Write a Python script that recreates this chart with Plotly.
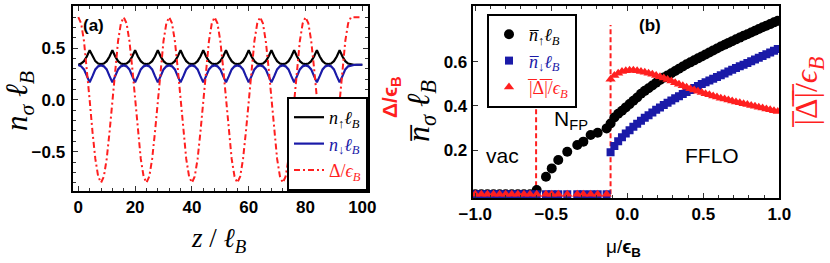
import plotly.graph_objects as go

# ---------------- panel (a) data ----------------
Z = [0, 1, 2, 3, 4, 5, 6, 7, 8, 9, 10, 11, 12, 13, 14, 15, 16, 17, 18, 19, 20,
     21, 22, 23, 24, 25, 26, 27, 28, 29, 30, 31, 32, 33, 34, 35, 36, 37, 38, 39, 40,
     41, 42, 43, 44, 45, 46, 47, 48, 49, 50, 51, 52, 53, 54, 55, 56, 57, 58, 59, 60,
     61, 62, 63, 64, 65, 66, 67, 68, 69, 70, 71, 72, 73, 74, 75, 76, 77, 78, 79, 80,
     81, 82, 83, 84, 85, 86, 87, 88, 89, 90, 91, 92, 93, 94, 95, 96, 97, 98, 99, 100]

N_UP = [0.340, 0.352, 0.375, 0.420, 0.480, 0.420, 0.375, 0.352,
        0.347, 0.352, 0.375, 0.420, 0.480, 0.420, 0.375, 0.352,
        0.347, 0.352, 0.375, 0.420, 0.480, 0.420, 0.375, 0.352,
        0.347, 0.352, 0.375, 0.420, 0.480, 0.420, 0.375, 0.352,
        0.347, 0.352, 0.375, 0.420, 0.480, 0.420, 0.375, 0.352,
        0.347, 0.352, 0.375, 0.420, 0.480, 0.420, 0.375, 0.352,
        0.347, 0.352, 0.375, 0.420, 0.480, 0.420, 0.375, 0.352,
        0.347, 0.352, 0.375, 0.420, 0.480, 0.420, 0.375, 0.352,
        0.347, 0.352, 0.375, 0.420, 0.480, 0.420, 0.375, 0.352,
        0.347, 0.352, 0.375, 0.420, 0.480, 0.420, 0.375, 0.352,
        0.347, 0.352, 0.375, 0.420, 0.480, 0.420, 0.375, 0.352,
        0.347, 0.352, 0.375, 0.420, 0.480, 0.420, 0.375, 0.352,
        0.343, 0.340, 0.340, 0.340, 0.340]

N_DOWN = [0.338, 0.325, 0.295, 0.230, 0.170, 0.230, 0.295, 0.325,
          0.333, 0.325, 0.295, 0.230, 0.170, 0.230, 0.295, 0.325,
          0.333, 0.325, 0.295, 0.230, 0.170, 0.230, 0.295, 0.325,
          0.333, 0.325, 0.295, 0.230, 0.170, 0.230, 0.295, 0.325,
          0.333, 0.325, 0.295, 0.230, 0.170, 0.230, 0.295, 0.325,
          0.333, 0.325, 0.295, 0.230, 0.170, 0.230, 0.295, 0.325,
          0.333, 0.325, 0.295, 0.230, 0.170, 0.230, 0.295, 0.325,
          0.333, 0.325, 0.295, 0.230, 0.170, 0.230, 0.295, 0.325,
          0.333, 0.325, 0.295, 0.230, 0.170, 0.230, 0.295, 0.325,
          0.333, 0.325, 0.295, 0.230, 0.170, 0.230, 0.295, 0.325,
          0.333, 0.325, 0.295, 0.230, 0.170, 0.230, 0.295, 0.325,
          0.333, 0.325, 0.295, 0.230, 0.170, 0.230, 0.295, 0.325,
          0.335, 0.338, 0.340, 0.340, 0.340]

DELTA = [0.80, 0.74, 0.57, 0.31, 0.00, -0.31, -0.57, -0.74, -0.80, -0.74, -0.57, -0.31, 0.00, 0.31, 0.57, 0.74,
         0.80, 0.74, 0.57, 0.31, 0.00, -0.31, -0.57, -0.74, -0.80, -0.74, -0.57, -0.31, 0.00, 0.31, 0.57, 0.74,
         0.80, 0.74, 0.57, 0.31, 0.00, -0.31, -0.57, -0.74, -0.80, -0.74, -0.57, -0.31, 0.00, 0.31, 0.57, 0.74,
         0.80, 0.74, 0.57, 0.31, 0.00, -0.31, -0.57, -0.74, -0.80, -0.74, -0.57, -0.31, 0.00, 0.31, 0.57, 0.74,
         0.80, 0.74, 0.57, 0.31, 0.00, -0.31, -0.57, -0.74, -0.80, -0.74, -0.57, -0.31, 0.00, 0.31, 0.57, 0.74,
         0.80, 0.74, 0.57, 0.31, 0.00, -0.31, -0.57, -0.74, -0.80, -0.74, -0.57, -0.31, 0.00, 0.31, 0.57, 0.74,
         0.80, 0.80, 0.80, 0.80, 0.80]

A_XTICKS = [0, 20, 40, 60, 80, 100]
A_YTICKS = [-0.5, 0.0, 0.5]

# ---------------- panel (b) data ----------------
VAC_MU = [-1.0, -0.96, -0.92, -0.88, -0.84, -0.80, -0.76, -0.72, -0.68, -0.64]
VAC_ZERO = [0.0, 0.0, 0.0, 0.0, 0.0, 0.0, 0.0, 0.0, 0.0, 0.0]

NFP_MU = [-0.596, -0.535, -0.497, -0.454, -0.395, -0.329, -0.289, -0.241, -0.195, -0.136]
NFP_UP = [0.019, 0.079, 0.117, 0.155, 0.192, 0.223, 0.238, 0.268, 0.278, 0.298]
NFP_ZERO = [0.0, 0.0, 0.0, 0.0, 0.0, 0.0, 0.0, 0.0, 0.0, 0.0]

FFLO_MU = [-0.11, -0.085, -0.06, -0.035, -0.01, 0.015, 0.04, 0.065, 0.09, 0.115,
           0.14, 0.165, 0.19, 0.215, 0.24, 0.265, 0.29, 0.315, 0.34, 0.365,
           0.39, 0.415, 0.44, 0.465, 0.49, 0.515, 0.54, 0.565, 0.59, 0.615,
           0.64, 0.665, 0.69, 0.715, 0.74, 0.765, 0.79, 0.815, 0.84, 0.865,
           0.89, 0.915, 0.94, 0.965, 0.99]
FFLO_UP = [0.320, 0.347, 0.364, 0.378, 0.393, 0.408, 0.423, 0.438, 0.455, 0.468,
           0.480, 0.492, 0.505, 0.517, 0.528, 0.538, 0.548, 0.558, 0.568, 0.578,
           0.588, 0.597, 0.606, 0.615, 0.624, 0.633, 0.642, 0.651, 0.660, 0.669,
           0.677, 0.685, 0.693, 0.701, 0.709, 0.717, 0.724, 0.732, 0.740, 0.748,
           0.756, 0.763, 0.770, 0.778, 0.785]
FFLO_DOWN = [0.190, 0.218, 0.240, 0.258, 0.275, 0.290, 0.305, 0.319, 0.333, 0.346,
             0.358, 0.370, 0.382, 0.393, 0.404, 0.414, 0.424, 0.434, 0.444, 0.454,
             0.463, 0.472, 0.481, 0.490, 0.499, 0.507, 0.515, 0.523, 0.531, 0.539,
             0.547, 0.555, 0.563, 0.571, 0.579, 0.586, 0.594, 0.602, 0.610, 0.618,
             0.626, 0.634, 0.642, 0.650, 0.657]
FFLO_GAP = [0.520, 0.538, 0.548, 0.555, 0.559, 0.561, 0.561, 0.559, 0.556, 0.552,
            0.548, 0.543, 0.538, 0.532, 0.526, 0.519, 0.512, 0.505, 0.498, 0.491,
            0.484, 0.478, 0.472, 0.466, 0.460, 0.455, 0.450, 0.445, 0.440, 0.435,
            0.431, 0.427, 0.422, 0.418, 0.414, 0.410, 0.406, 0.402, 0.398, 0.394,
            0.390, 0.386, 0.382, 0.378, 0.374]

BOUNDARY_MU = [-0.6, -0.11]
BOUNDARY_Y = [0.0, 0.766]

B_XTICKS = [-1.0, -0.5, 0.0, 0.5, 1.0]
B_YTICKS = [0.2, 0.4, 0.6]

# ---------------- styling ----------------
W, H = 830, 263
BLACK = "#000000"
BLUE = "#1a1aa8"
RED = "#ff1f1f"
TICKFONT = dict(family="Liberation Sans", size=17, color="black", weight="bold")
SERIF = "Liberation Serif"


def px(x):
    return x / W


def py(y):
    return 1 - y / H


fig = go.Figure()

# panel (a)
fig.add_trace(go.Scatter(x=Z, y=N_UP, mode="lines", line=dict(color=BLACK, width=2.2),
                         name="<i>n</i><sub>↑</sub><i>ℓ</i><sub><i>B</i></sub>",
                         xaxis="x", yaxis="y", legend="legend"))
fig.add_trace(go.Scatter(x=Z, y=N_DOWN, mode="lines", line=dict(color=BLUE, width=2.2),
                         name=f"<span style='color:{BLUE}'><i>n</i><sub>↓</sub><i>ℓ</i><sub><i>B</i></sub></span>",
                         xaxis="x", yaxis="y", legend="legend"))
fig.add_trace(go.Scatter(x=Z, y=DELTA, mode="lines",
                         line=dict(color=RED, width=2, dash="6px,3px,2px,3px"),
                         name=f"<span style='color:{RED}'>Δ/<i>ϵ</i><sub><i>B</i></sub></span>",
                         xaxis="x", yaxis="y", legend="legend"))

# panel (b) boundaries
for mu in BOUNDARY_MU:
    fig.add_trace(go.Scatter(x=[mu, mu], y=BOUNDARY_Y, mode="lines",
                             line=dict(color=RED, width=2, dash="5px,3px"),
                             showlegend=False, xaxis="x2", yaxis="y2", hoverinfo="skip"))

fig.add_trace(go.Scatter(x=VAC_MU + NFP_MU + FFLO_MU, y=VAC_ZERO + NFP_UP + FFLO_UP,
                         mode="markers", marker=dict(symbol="circle", size=10, color=BLACK),
                         name="<i>n̅</i><sub>↑</sub><i>ℓ</i><sub><i>B</i></sub>",
                         xaxis="x2", yaxis="y2", legend="legend2"))
fig.add_trace(go.Scatter(x=VAC_MU + NFP_MU + FFLO_MU, y=VAC_ZERO + NFP_ZERO + FFLO_DOWN,
                         mode="markers", marker=dict(symbol="square", size=8, color=BLUE),
                         name=f"<span style='color:{BLUE}'><i>n̅</i><sub>↓</sub><i>ℓ</i><sub><i>B</i></sub></span>",
                         xaxis="x2", yaxis="y2", legend="legend2"))
fig.add_trace(go.Scatter(x=VAC_MU + NFP_MU + FFLO_MU, y=VAC_ZERO + NFP_ZERO + FFLO_GAP,
                         mode="markers", marker=dict(symbol="triangle-up", size=9, color=RED),
                         name=f"<span style='color:{RED}'>|̅Δ̅|̅/<i>ϵ</i><sub><i>B</i></sub></span>",
                         xaxis="x2", yaxis="y2", legend="legend2"))

axis_common = dict(showline=True, linecolor="black", linewidth=2, showgrid=False, zeroline=False,
                   ticks="inside", tickcolor="#333", tickwidth=1, ticklen=5,
                   tickfont=TICKFONT, automargin=False)

fig.update_layout(
    width=W, height=H, autosize=False,
    margin=dict(l=0, r=0, t=0, b=0, pad=0, autoexpand=False),
    paper_bgcolor="white", plot_bgcolor="white",
    xaxis=dict(domain=[px(72.5), px(368.3)], range=[-2.04, 102.1], anchor="y",
               tickvals=A_XTICKS, mirror="allticks",
               minor=dict(ticks="inside", ticklen=3, dtick=4, tickcolor="#333"),
               ticklabelstandoff=0, **axis_common),
    yaxis=dict(domain=[py(191), py(6)], range=[-0.88, 0.908], anchor="x",
               tickvals=A_YTICKS, ticktext=["\u22120.5", "0.0", "0.5"], mirror="allticks",
               minor=dict(ticks="inside", ticklen=3, dtick=0.1, tickcolor="#333"),
               ticklabelstandoff=2, **axis_common),
    xaxis2=dict(domain=[px(472.7), px(779.3)], range=[-1.017, 1.0], anchor="y2",
                tickvals=B_XTICKS, ticktext=["\u22121.0", "\u22120.5", "0.0", "0.5", "1.0"],
                mirror="allticks",
                minor=dict(ticks="inside", ticklen=3, dtick=0.1, tickcolor="#333"),
                ticklabelstandoff=0, **axis_common),
    yaxis2=dict(domain=[py(198), py(6)], range=[-0.017, 0.852], anchor="x2",
                tickvals=B_YTICKS, ticktext=["0.2", "0.4", "0.6"], mirror=True,
                ticklabelstandoff=0, **axis_common),
    showlegend=True,
    legend=dict(x=px(368), y=py(191), xanchor="right", yanchor="bottom",
                bgcolor="white", bordercolor="black", borderwidth=2,
                font=dict(family=SERIF, size=18, color="black"),
                itemwidth=30, tracegroupgap=0),
    legend2=dict(x=px(487), y=py(14), xanchor="left", yanchor="top",
                 bgcolor="white", bordercolor="black", borderwidth=2,
                 font=dict(family=SERIF, size=18, color="black"),
                 itemwidth=30, tracegroupgap=0),
)

ann = [
    dict(x=px(93), y=py(25), text="<b>(a)</b>", font=dict(family="Liberation Sans", size=17, color="black")),
    dict(x=px(650), y=py(25), text="<b>(b)</b>", font=dict(family="Liberation Sans", size=17, color="black")),
    dict(x=px(502), y=py(155), text="vac", font=dict(family="Liberation Sans", size=21, color="black")),
    dict(x=px(571), y=py(120), text="N<sub>FP</sub>", font=dict(family="Liberation Sans", size=21, color="black")),
    dict(x=px(712), y=py(155), text="FFLO", font=dict(family="Liberation Sans", size=21, color="black")),
    dict(x=px(19), y=py(101), text="<i>n</i><sub><i>σ</i></sub> <i>ℓ</i><sub><i>B</i></sub>", textangle=-90,
         font=dict(family=SERIF, size=31, color="black")),
    dict(x=px(219), y=py(240), text="<i>z</i> / <i>ℓ</i><sub><i>B</i></sub>",
         font=dict(family=SERIF, size=27, color="black")),
    dict(x=px(391), y=py(97), text="<b>Δ/ϵ<sub>B</sub></b>", textangle=-90,
         font=dict(family="Liberation Sans", size=21, color=RED)),
    dict(x=px(421), y=py(111), text="<i>n̅</i><sub><i>σ</i></sub> <i>ℓ</i><sub><i>B</i></sub>", textangle=-90,
         font=dict(family=SERIF, size=32, color="black")),
    dict(x=px(623), y=py(248), text="μ/<b>ϵ<sub>B</sub></b>",
         font=dict(family="Liberation Sans", size=19, color="black")),
    dict(x=px(808), y=py(92), text="|̅Δ̅|̅/<i>ϵ</i><sub><i>B</i></sub>", textangle=-90,
         font=dict(family=SERIF, size=32, color=RED)),
]
for a in ann:
    a.update(xref="paper", yref="paper", showarrow=False, xanchor="center", yanchor="middle")
fig.update_layout(annotations=ann)

fig.write_html("out.html",
               config={"displayModeBar": False, "staticPlot": True},
               post_script="document.body.style.margin='0px';document.body.style.padding='0px';")
